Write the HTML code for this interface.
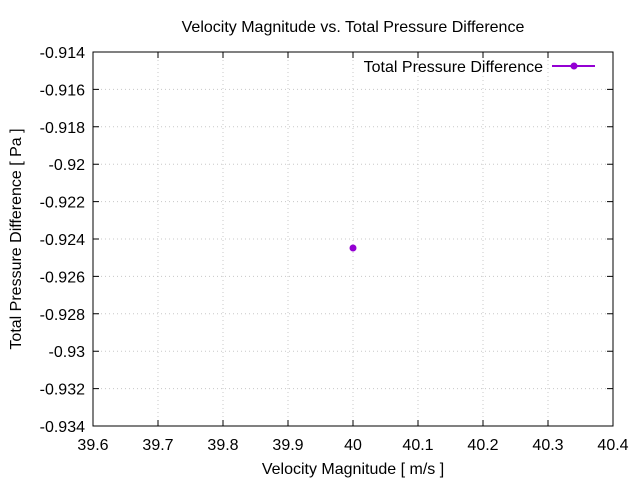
<!DOCTYPE html>
<html><head><style>body{margin:0;background:#fff}</style></head><body>
<svg width="640" height="480" xmlns="http://www.w3.org/2000/svg" font-family="Liberation Sans, sans-serif" font-size="16" fill="#000">
<rect width="640" height="480" fill="#fff"/>
<g stroke="#c8c8c8" stroke-dasharray="1,3" stroke-width="1">
<line x1="158" y1="52" x2="158" y2="426"/><line x1="223" y1="52" x2="223" y2="426"/><line x1="288" y1="52" x2="288" y2="426"/><line x1="353" y1="52" x2="353" y2="426"/><line x1="418" y1="52" x2="418" y2="426"/><line x1="483" y1="52" x2="483" y2="426"/><line x1="548" y1="52" x2="548" y2="426"/>
<line x1="93" y1="89.4" x2="613" y2="89.4"/><line x1="93" y1="126.8" x2="613" y2="126.8"/><line x1="93" y1="164.2" x2="613" y2="164.2"/><line x1="93" y1="201.6" x2="613" y2="201.6"/><line x1="93" y1="239" x2="613" y2="239"/><line x1="93" y1="276.4" x2="613" y2="276.4"/><line x1="93" y1="313.8" x2="613" y2="313.8"/><line x1="93" y1="351.2" x2="613" y2="351.2"/><line x1="93" y1="388.6" x2="613" y2="388.6"/>
</g>
<g stroke="#000" stroke-width="1">
<rect x="93" y="52" width="520" height="374" fill="none"/>
<path d="M158 426v-6M223 426v-6M288 426v-6M353 426v-6M418 426v-6M483 426v-6M548 426v-6M158 52v6M223 52v6M288 52v6M353 52v6M418 52v6M483 52v6M548 52v6
M93 89.4h6M93 126.8h6M93 164.2h6M93 201.6h6M93 239h6M93 276.4h6M93 313.8h6M93 351.2h6M93 388.6h6
M613 89.4h-6M613 126.8h-6M613 164.2h-6M613 201.6h-6M613 239h-6M613 276.4h-6M613 313.8h-6M613 351.2h-6M613 388.6h-6"/>
</g>
<g text-anchor="end">
<text x="85" y="58">-0.914</text><text x="85" y="95.4">-0.916</text><text x="85" y="132.8">-0.918</text><text x="85" y="170.2">-0.92</text><text x="85" y="207.6">-0.922</text><text x="85" y="245">-0.924</text><text x="85" y="282.4">-0.926</text><text x="85" y="319.8">-0.928</text><text x="85" y="357.2">-0.93</text><text x="85" y="394.6">-0.932</text><text x="85" y="432">-0.934</text>
</g>
<g text-anchor="middle">
<text x="93" y="450">39.6</text><text x="158" y="450">39.7</text><text x="223" y="450">39.8</text><text x="288" y="450">39.9</text><text x="353" y="450">40</text><text x="418" y="450">40.1</text><text x="483" y="450">40.2</text><text x="548" y="450">40.3</text><text x="613" y="450">40.4</text>
<text x="353" y="474">Velocity Magnitude [ m/s ]</text>
<text x="353" y="32">Velocity Magnitude vs. Total Pressure Difference</text>
<text transform="translate(21,239) rotate(-90)">Total Pressure Difference [ Pa ]</text>
</g>
<text x="543" y="72" text-anchor="end">Total Pressure Difference</text>
<line x1="552" y1="66" x2="595" y2="66" stroke="#9400d3" stroke-width="2"/>
<circle cx="574" cy="66" r="3.5" fill="#9400d3"/>
<circle cx="353" cy="248" r="3.5" fill="#9400d3"/>
</svg>
</body></html>
